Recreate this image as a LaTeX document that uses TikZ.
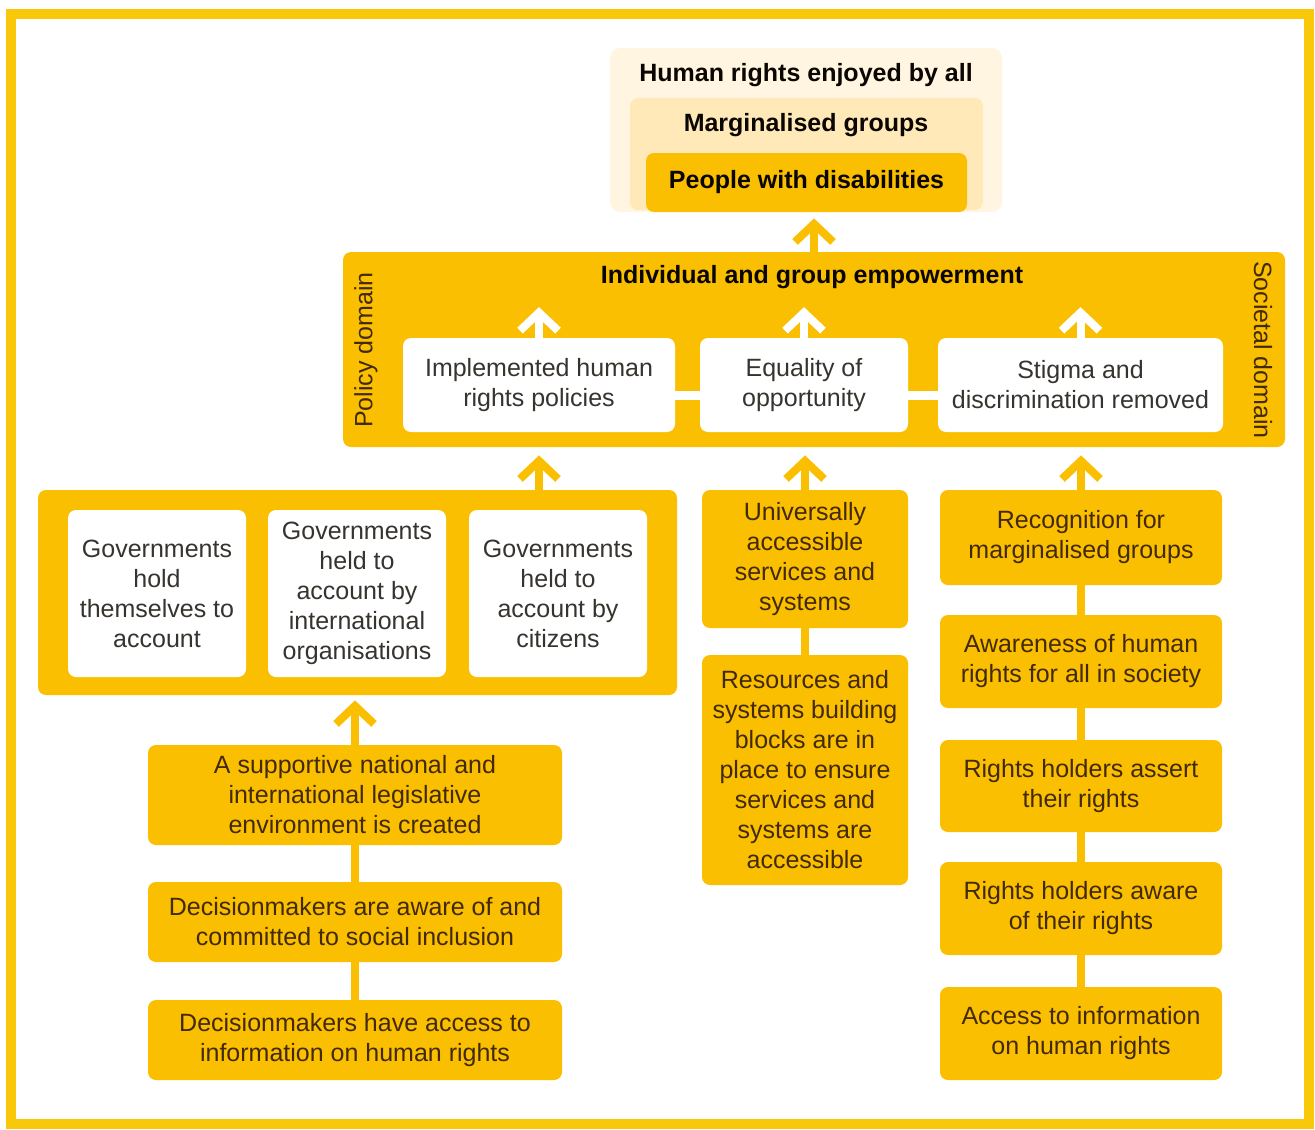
\documentclass[tikz,border=0pt]{standalone}
\usepackage{fontspec}
\setmainfont{Liberation Sans}
\usepackage{tikz}
\usetikzlibrary{arrows.meta, positioning, calc}
\definecolor{hryellow}{RGB}{250, 191, 0}
\definecolor{hrframe}{RGB}{250, 200, 10}
\definecolor{hrcream}{RGB}{255, 245, 224}
\definecolor{hrpale}{RGB}{255, 233, 184}
\definecolor{hrbrown}{RGB}{66, 42, 8}
\definecolor{hrgrey}{RGB}{55, 52, 48}

\begin{document}
\begin{tikzpicture}[
    x=0.5pt, y=-0.5pt,
    every node/.style={font=\fontsize{12.5}{15}\selectfont, inner sep=0pt, align=center},
    ybox/.style={rectangle, fill=hryellow, rounded corners=4pt, text=hrbrown},
    wbox/.style={rectangle, fill=white, rounded corners=4pt, text=hrgrey},
    headtxt/.style={font=\fontsize{12.5}{15}\selectfont\bfseries, text=black!85!hrbrown},
    yarr/.style={-{Straight Barb[length=9pt, width=19pt]}, line width=4pt, hryellow},
    warr/.style={-{Straight Barb[length=9pt, width=19pt]}, line width=4pt, white},
    ylink/.style={line width=4pt, hryellow},
    wlink/.style={line width=4.5pt, white},
]
\useasboundingbox (0,0) rectangle (1315,1129);
\draw[hrframe, line width=5pt] (11,14.5) rectangle (1309,1124);

% Goal
\node[rectangle, fill=hrcream, rounded corners=5pt, minimum width=196pt, minimum height=82pt] (all) at (806,130) {};
\node[rectangle, fill=hrpale, rounded corners=4pt, minimum width=176.5pt, minimum height=56pt] (marg) at (806.5,154) {};
\node[ybox, minimum width=160.5pt, minimum height=29.5pt, headtxt] (people) at (806.5,182.5) {People with disabilities};
\node[headtxt] (alltxt) at (806,75) {Human rights enjoyed by all};
\node[headtxt] (margtxt) at (806,125) {Marginalised groups};

% Empowerment
\node[ybox, minimum width=471pt, minimum height=97.5pt] (band) at (814,349.5) {};
\node[headtxt] (title) at (812,277) {Individual and group empowerment};
\node[rotate=90, text=hrbrown] (policy) at (366,350) {Policy domain};
\node[rotate=-90, text=hrbrown] (societal) at (1263,350) {Societal domain};
\node[wbox, minimum width=136pt, minimum height=47pt] (impl) at (539,385) {Implemented human\\rights policies};
\node[wbox, minimum width=104pt, minimum height=47pt] (equal) at (804,385) {Equality of\\opportunity};
\node[wbox, minimum width=142.5pt, minimum height=47pt] (stigma) at (1080.5,385) {Stigma and\\discrimination removed};

% Policy domain
\node[ybox, minimum width=319.5pt, minimum height=102.5pt] (govs) at (357.5,592.5) {};
\node[wbox, minimum width=89pt, minimum height=83.5pt] (govself) at (157,593.5) {Governments\\hold\\themselves to\\account};
\node[wbox, minimum width=89pt, minimum height=83.5pt] (govintl) at (357,593.5) {Governments\\held to\\account by\\international\\organisations};
\node[wbox, minimum width=89pt, minimum height=83.5pt] (govcit) at (558,593.5) {Governments\\held to\\account by\\citizens};
\node[ybox, minimum width=207pt, minimum height=50pt] (legis) at (355,795) {A supportive national and\\international legislative\\environment is created};
\node[ybox, minimum width=207pt, minimum height=40pt] (committed) at (355,922) {Decisionmakers are aware of and\\committed to social inclusion};
\node[ybox, minimum width=207pt, minimum height=40pt] (dmaccess) at (355,1040) {Decisionmakers have access to\\information on human rights};

% Services
\node[ybox, minimum width=103pt, minimum height=69pt] (univ) at (805,559) {Universally\\accessible\\services and\\systems};
\node[ybox, minimum width=103pt, minimum height=115pt] (blocks) at (805,770) {Resources and\\systems building\\blocks are in\\place to ensure\\services and\\systems are\\accessible};

% Societal domain
\node[ybox, minimum width=141pt, minimum height=47.5pt] (recog) at (1081,537.5) {Recognition for\\marginalised groups};
\node[ybox, minimum width=141pt, minimum height=46.5pt] (society) at (1081,661.5) {Awareness of human\\rights for all in society};
\node[ybox, minimum width=141pt, minimum height=46pt] (assert) at (1081,786) {Rights holders assert\\their rights};
\node[ybox, minimum width=141pt, minimum height=46.5pt] (holders) at (1081,908.5) {Rights holders aware\\of their rights};
\node[ybox, minimum width=141pt, minimum height=46.5pt] (info) at (1081,1033.5) {Access to information\\on human rights};

% Arrows
\draw[yarr, shorten >=3pt] (band.north) -- (band.north |- people.south);
\draw[warr, shorten >=9pt] (impl.north) -- (impl.north |- title.south);
\draw[warr, shorten >=9pt] (equal.north) -- (equal.north |- title.south);
\draw[warr, shorten >=9pt] (stigma.north) -- (stigma.north |- title.south);
\draw[wlink] ([yshift=-5pt]impl.east) -- ([yshift=-5pt]equal.west);
\draw[wlink] ([yshift=-5pt]equal.east) -- ([yshift=-5pt]stigma.west);
\draw[yarr, shorten >=4pt] (impl |- govs.north) -- (impl |- band.south);
\draw[yarr, shorten >=4pt] (univ.north) -- (univ |- band.south);
\draw[yarr, shorten >=4pt] (recog.north) -- (recog |- band.south);
\draw[yarr, shorten >=2.5pt] (legis.north) -- (legis |- govs.south);
\draw[ylink] (legis) -- (committed);
\draw[ylink] (committed) -- (dmaccess);
\draw[ylink] (univ) -- (blocks);
\draw[ylink] (recog) -- (society);
\draw[ylink] (society) -- (assert);
\draw[ylink] (assert) -- (holders);
\draw[ylink] (holders) -- (info);

\end{tikzpicture}
\end{document}
